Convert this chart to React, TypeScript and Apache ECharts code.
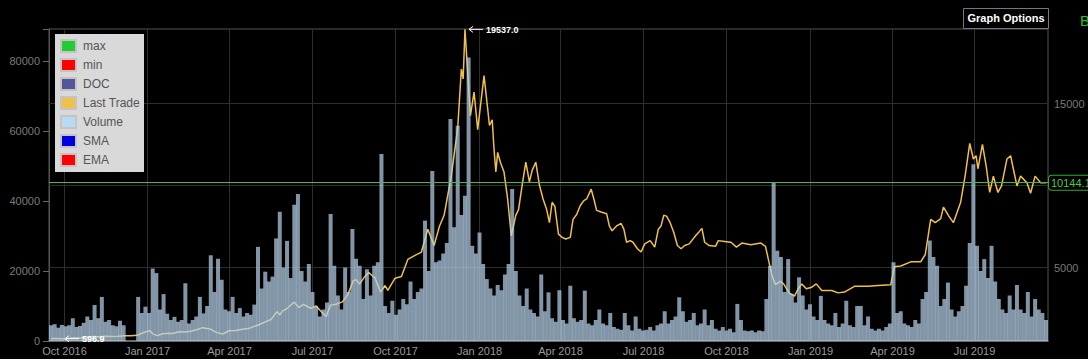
import { useEffect, useRef } from 'react';
import * as echarts from 'echarts';

// ---- data ----
const PRICE_DATES = [
  '2016-09-17','2016-09-24','2016-09-28','2016-10-05','2016-10-12','2016-10-19','2016-10-26','2016-11-02','2016-11-09','2016-11-16',
  '2016-11-23','2016-11-30','2016-12-07','2016-12-14','2016-12-21','2016-12-28','2017-01-04','2017-01-07','2017-01-12','2017-01-18',
  '2017-01-23','2017-01-29','2017-02-05','2017-02-11','2017-02-18','2017-02-25','2017-03-03','2017-03-11','2017-03-18','2017-03-25',
  '2017-04-01','2017-04-09','2017-04-16','2017-04-24','2017-05-04','2017-05-12','2017-05-17','2017-05-24','2017-05-27','2017-05-30',
  '2017-06-03','2017-06-10','2017-06-12','2017-06-17','2017-06-22','2017-06-27','2017-06-30','2017-07-06','2017-07-10','2017-07-17',
  '2017-07-22','2017-07-28','2017-08-04','2017-08-10','2017-08-16','2017-08-19','2017-08-23','2017-08-28','2017-09-02','2017-09-09',
  '2017-09-15','2017-09-20','2017-09-23','2017-10-01','2017-10-08','2017-10-15','2017-10-23','2017-10-30','2017-11-06','2017-11-13',
  '2017-11-19','2017-11-24','2017-12-02','2017-12-09','2017-12-13','2017-12-15','2017-12-17','2017-12-23','2017-12-27','2017-12-31',
  '2018-01-07','2018-01-13','2018-01-16','2018-01-18','2018-01-20','2018-01-22','2018-01-25','2018-01-29','2018-02-02','2018-02-06',
  '2018-02-11','2018-02-14','2018-02-18','2018-02-22','2018-02-26','2018-03-01','2018-03-05','2018-03-09','2018-03-13','2018-03-17',
  '2018-03-20','2018-03-23','2018-03-26','2018-03-30','2018-04-03','2018-04-07','2018-04-12','2018-04-15','2018-04-19','2018-04-23',
  '2018-04-27','2018-04-30','2018-05-05','2018-05-08','2018-05-11','2018-05-16','2018-05-22','2018-05-25','2018-05-28','2018-06-02',
  '2018-06-07','2018-06-10','2018-06-13','2018-06-17','2018-06-20','2018-06-25','2018-06-29','2018-07-03','2018-07-09','2018-07-14',
  '2018-07-18','2018-07-21','2018-07-24','2018-07-27','2018-07-31','2018-08-04','2018-08-08','2018-08-12','2018-08-16','2018-08-21',
  '2018-08-28','2018-09-01','2018-09-04','2018-09-07','2018-09-12','2018-09-19','2018-09-22','2018-09-29','2018-10-06','2018-10-12',
  '2018-10-18','2018-10-28','2018-11-08','2018-11-13','2018-11-16','2018-11-20','2018-11-24','2018-11-29','2018-12-03','2018-12-09',
  '2018-12-15','2018-12-19','2018-12-23','2018-12-28','2019-01-03','2019-01-08','2019-01-14','2019-01-25','2019-02-01','2019-02-08',
  '2019-02-19','2019-03-06','2019-03-17','2019-03-31','2019-04-04','2019-04-11','2019-04-22','2019-05-03','2019-05-08','2019-05-14',
  '2019-05-19','2019-05-25','2019-05-28','2019-06-03','2019-06-08','2019-06-16','2019-06-21','2019-06-26','2019-06-30','2019-07-03',
  '2019-07-05','2019-07-10','2019-07-14','2019-07-18','2019-07-22','2019-07-27','2019-07-31','2019-08-06','2019-08-10','2019-08-13',
  '2019-08-17','2019-08-21','2019-08-28','2019-09-01','2019-09-06','2019-09-12','2019-09-18'
];
const PRICE_VALUES = [
  605,603,596.9,612,638,630,680,730,710,745,
  735,745,768,780,800,975,1080,890,780,900,
  920,915,1020,1000,1050,1160,1270,1190,980,880,
  1080,1090,1170,1240,1450,1650,1750,2250,2050,2300,
  2400,2750,2820,2500,2700,2550,2450,2600,2350,1950,
  2650,2700,2850,3300,4150,4200,3950,4350,4650,4300,
  3450,3850,3550,4300,4400,5450,5700,5900,7300,6300,
  7500,8150,10600,13500,17100,16500,19537,14250,15700,13400,
  16700,13650,14000,12200,10800,12000,11400,10800,9150,6900,
  8150,8500,10000,11400,10200,10900,11400,10000,9150,8500,
  7700,8950,8700,7000,6800,6700,6800,7900,8200,8750,
  9050,9150,9750,9150,8450,8350,8250,7500,7200,7500,
  7650,7300,6500,6600,6500,6100,5900,6400,6600,6200,
  7300,7500,8150,8100,7700,7100,6300,6100,6300,6400,
  6900,7150,7350,6500,6300,6250,6600,6550,6500,6200,
  6450,6350,6450,6250,5500,4500,3900,4100,3950,3400,
  3200,3650,3950,3650,3750,3950,3550,3550,3400,3450,
  3800,3800,3850,3900,5000,5050,5300,5300,5750,7900,
  7700,7950,8650,8100,7700,8950,10600,12550,11600,11800,
  11000,12500,11200,9550,10550,9550,9950,11600,11800,11000,
  9950,10550,10150,9500,10550,10150,10144.1
];

const VOLUME_START = '2016-09-17';
const VOLUME_STEP_DAYS = 4;
const VOLUME_VALUES = [
  4500,4800,3800,4600,4200,4500,6500,4000,4300,5200,7000,6000,10300,6500,12600,5500,6000,4500,4200,5800,
  4500,0,0,0,12600,8000,9800,8000,20700,19400,9000,13400,7800,6000,6900,5500,6000,16500,5000,6000,
  7000,12600,7900,10000,24500,14000,23500,17500,9000,8500,12600,8000,9400,7000,8000,7500,10400,26900,15000,19800,
  17000,18400,29300,36900,21000,28600,18000,38900,42000,20000,17000,22000,14000,10000,7000,9000,11000,36300,21500,13000,
  9000,21000,14000,32000,23500,21500,12000,20500,13000,21500,22500,53400,10000,8000,11500,7500,9000,12000,10500,17000,
  12000,14000,15000,34400,20000,48600,22500,23000,25000,28000,63400,32500,61500,36000,41500,81000,27200,25000,31000,22000,
  17700,15000,13000,16000,14500,19000,22000,43400,20000,13000,10000,15000,9000,8000,7000,19000,8500,13900,6500,5500,
  14500,6000,5000,15800,6500,5500,6000,14400,5000,4500,6000,9000,5000,4500,8000,4000,3500,3200,8000,4500,
  3000,7000,3500,3000,3200,4000,3000,4500,5000,8500,5000,6000,7000,12500,8500,5500,6000,8000,4500,5000,
  9000,4500,6000,3500,3000,4000,3000,3500,2500,10600,6000,3000,2800,3000,2500,3000,2800,12000,21500,45300,
  25800,24000,14000,23400,13500,11000,18200,13000,9000,10500,7000,6000,12900,6000,5000,4500,8000,4000,5000,11500,
  4500,4000,10000,10000,4500,7000,3500,3000,3500,3000,4000,5000,22500,8000,8500,5000,4500,4000,6000,5000,
  12000,14000,28700,24000,21500,10000,12000,16700,9000,7000,8500,10000,15800,28000,50500,27200,20000,23400,18000,27200,
  17000,12000,9000,8000,13000,9000,16000,9000,8000,14000,7000,12000,9000,8000,6000
];

const X_TICK_DATES = ['2016-10-01','2017-01-01','2017-04-01','2017-07-01','2017-10-01','2018-01-01','2018-04-01','2018-07-01','2018-10-01','2019-01-01','2019-04-01','2019-07-01'];
const X_TICK_LABELS = ['Oct 2016','Jan 2017','Apr 2017','Jul 2017','Oct 2017','Jan 2018','Apr 2018','Jul 2018','Oct 2018','Jan 2019','Apr 2019','Jul 2019'];
const X_MIN = '2016-09-17';
const X_MAX = '2019-09-18';
const LEFT_TICKS = [0, 20000, 40000, 60000, 80000];
const RIGHT_GRID = [5000, 10000, 15000];
const RIGHT_LABELS = ['5000', '', '15000'];
const LAST_PRICE = 10144.1;
const MAX_POINT = { date: '2017-12-17', value: 19537.0 };
const MIN_POINT = { date: '2016-09-28', value: 596.9 };
const LEGEND_NAMES = ['max', 'min', 'DOC', 'Last Trade', 'Volume', 'SMA', 'EMA'];
const LEGEND_COLORS = ['#22cc33', '#ff0000', '#555599', '#efc04a', '#b8daf5', '#0000dd', '#ff0000'];

const DAY = 86400000;
const toTs = (s: string) => {
  const [y, m, d] = s.split('-').map(Number);
  return Date.UTC(y, m - 1, d);
};

const FONT = '"Liberation Sans", Arial, sans-serif';
const GRID_COLOR = '#2e2e2e';

export default function App() {
  const ref = useRef<HTMLDivElement>(null);
  useEffect(() => {
    if (!ref.current) return;
    const chart = echarts.init(ref.current, undefined, { renderer: 'svg' });
    const priceData = PRICE_DATES.map((d, i) => [toTs(d), PRICE_VALUES[i]]);
    const volStart = toTs(VOLUME_START);
    const volData = VOLUME_VALUES.map((v, i) => [volStart + i * VOLUME_STEP_DAYS * DAY, v]);

    const TOP = 100;
    const legendEls: any[] = [
      { type: 'rect', z: TOP, shape: { x: 55, y: 34, width: 89, height: 138 }, style: { fill: '#d9d9d9' } },
    ];
    LEGEND_NAMES.forEach((n, i) => {
      legendEls.push({
        type: 'rect', z: TOP + 1,
        shape: { x: 61, y: 40 + 19 * i, width: 15, height: 12 },
        style: { fill: LEGEND_COLORS[i], stroke: '#c4c4c4', lineWidth: 2 },
      });
      legendEls.push({
        type: 'text', z: TOP + 1,
        style: { text: n, x: 83, y: 46 + 19 * i, verticalAlign: 'middle', fill: '#555', fontSize: 12, fontFamily: FONT },
      });
    });

    const baseGraphic: any[] = [
      ...legendEls,
      { type: 'rect', z: TOP, shape: { x: 963.5, y: 8.5, width: 85, height: 20 }, style: { fill: '#000', stroke: '#777', lineWidth: 1 } },
      { type: 'text', z: TOP + 1, style: { text: 'Graph Options', x: 1006, y: 18, align: 'center', verticalAlign: 'middle', fill: '#fff', fontSize: 11, fontWeight: 'bold', fontFamily: FONT } },
      { type: 'text', z: TOP, style: { text: 'B', x: 1080, y: 20, verticalAlign: 'middle', fill: '#33bb33', fontSize: 15, fontFamily: FONT } },
    ];

    chart.setOption({
      animation: false,
      backgroundColor: '#000',
      grid: { left: 49, right: 40, top: 29, bottom: 18, show: true, borderColor: '#555', borderWidth: 1 },
      xAxis: {
        type: 'time',
        min: toTs(X_MIN),
        max: toTs(X_MAX),
        axisLabel: { show: false },
        axisTick: { show: false },
        splitLine: { show: false },
        axisLine: { lineStyle: { color: '#808080', width: 1.5 } },
      },
      yAxis: [
        {
          type: 'value',
          min: 0,
          max: 89143,
          interval: 20000,
          position: 'left',
          splitLine: { show: false },
          axisLine: { show: true, lineStyle: { color: '#555' } },
          axisTick: { show: true, length: 6, lineStyle: { color: '#666' } },
          axisLabel: {
            color: '#7a7a7a', fontSize: 11, fontFamily: FONT, margin: 9,
            formatter: (v: number) => (LEFT_TICKS.includes(v) ? String(v) : ''),
          },
        },
        {
          type: 'value',
          min: 453,
          max: 19559,
          position: 'right',
          splitLine: { show: false },
          axisLine: { show: false },
          axisTick: { show: false },
          axisLabel: { show: false },
        },
      ],
      series: [
        {
          // vertical grid lines + date labels
          type: 'custom',
          xAxisIndex: 0,
          yAxisIndex: 0,
          z: 1,
          silent: true,
          clip: false,
          data: X_TICK_DATES.map((d, i) => [toTs(d), i]),
          encode: { x: 0 },
          renderItem: (params: any, api: any) => {
            const cs = params.coordSys;
            const x = Math.round(api.coord([api.value(0), 0])[0]) + 0.5;
            return {
              type: 'group',
              children: [
                { type: 'line', shape: { x1: x, y1: cs.y, x2: x, y2: cs.y + cs.height }, style: { stroke: GRID_COLOR, lineWidth: 1 } },
                {
                  type: 'text', x: x, y: cs.y + cs.height + 4,
                  style: { text: X_TICK_LABELS[params.dataIndex], fill: '#9a9a9a', fontSize: 11, fontFamily: FONT, align: 'center', verticalAlign: 'top' },
                },
              ],
            };
          },
        },
        {
          // horizontal grid lines + price labels
          type: 'custom',
          xAxisIndex: 0,
          yAxisIndex: 1,
          z: 1,
          silent: true,
          clip: false,
          data: RIGHT_GRID.map((v) => [toTs(X_MIN), v]),
          encode: { x: 0, y: 1 },
          renderItem: (params: any, api: any) => {
            const cs = params.coordSys;
            const y = Math.round(api.coord([api.value(0), api.value(1)])[1]) + 0.5;
            return {
              type: 'group',
              children: [
                { type: 'line', shape: { x1: cs.x, y1: y, x2: cs.x + cs.width, y2: y }, style: { stroke: GRID_COLOR, lineWidth: 1 } },
                {
                  type: 'text', x: cs.x + cs.width + 6, y: y,
                  style: { text: RIGHT_LABELS[params.dataIndex], fill: '#7a7a7a', fontSize: 11, fontFamily: FONT, align: 'left', verticalAlign: 'middle' },
                },
              ],
            };
          },
        },
        {
          name: 'Last Trade',
          type: 'line',
          yAxisIndex: 1,
          data: priceData,
          showSymbol: false,
          z: 2,
          lineStyle: { color: '#efc04a', width: 1.5 },
        },
        {
          name: 'Volume',
          type: 'bar',
          yAxisIndex: 0,
          data: volData,
          barWidth: 4,
          z: 3,
          itemStyle: { color: 'rgba(180,206,230,0.72)' },
        },
        {
          type: 'line',
          yAxisIndex: 1,
          data: [],
          z: 5,
          silent: true,
          markLine: {
            z: 6,
            silent: true,
            symbol: ['none', 'none'],
            lineStyle: { color: '#44bb44', type: 'solid', width: 1 },
            label: {
              position: 'end', formatter: String(LAST_PRICE), color: '#44cc44', fontSize: 11, fontFamily: FONT,
              backgroundColor: '#000', borderColor: '#33aa33', borderWidth: 1, borderRadius: 3, padding: [2, 2, 1, 2], distance: 1,
            },
            data: [{ yAxis: LAST_PRICE }],
          },
        },
      ],
      graphic: baseGraphic,
    });

    const ann: any[] = [];
    const addArrow = (date: string, value: number, label: string) => {
      const p = chart.convertToPixel({ xAxisIndex: 0, yAxisIndex: 1 }, [toTs(date), value]) as number[];
      const x0 = p[0] + 4;
      const y0 = p[1];
      ann.push({ type: 'line', z: TOP, shape: { x1: x0, y1: y0, x2: x0 + 14, y2: y0 }, style: { stroke: '#fff', lineWidth: 1 } });
      ann.push({ type: 'polyline', z: TOP, shape: { points: [[x0 + 4, y0 - 3], [x0, y0], [x0 + 4, y0 + 3]] }, style: { stroke: '#fff', lineWidth: 1, fill: 'none' } });
      ann.push({ type: 'text', z: TOP, style: { text: label, x: x0 + 17, y: y0 + 0.5, verticalAlign: 'middle', fill: '#fff', fontSize: 9, fontWeight: 'bold', fontFamily: FONT } });
    };
    addArrow(MAX_POINT.date, MAX_POINT.value, MAX_POINT.value.toFixed(1));
    addArrow(MIN_POINT.date, MIN_POINT.value, MIN_POINT.value.toFixed(1));
    chart.setOption({ graphic: [...baseGraphic, ...ann] }, { replaceMerge: ['graphic'] });

    return () => chart.dispose();
  }, []);
  return <div ref={ref} style={{ position: 'absolute', left: 0, top: 0, width: 1088, height: 359 }} />;
}
